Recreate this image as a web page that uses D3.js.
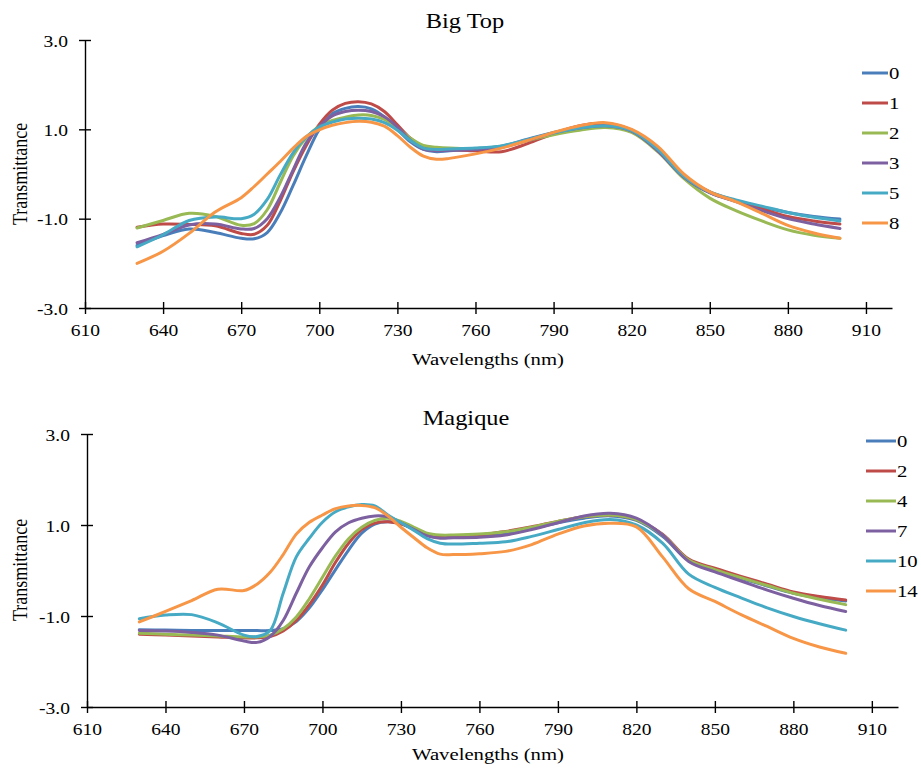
<!DOCTYPE html>
<html>
<head>
<meta charset="utf-8">
<script src="https://cdn.jsdelivr.net/npm/d3@7"></script>
<style>
  html, body { margin: 0; padding: 0; background: #fff; }
  svg { display: block; }
  text { font-family: "Liberation Serif", "Times New Roman", serif; fill: #000; }
</style>
</head>
<body>
<svg id="chart" width="921" height="774"></svg>
<script>
// ---------- DATA ----------
const wavelengths = [630,640,650,660,670,675,680,685,690,695,700,705,710,715,720,725,730,735,740,745,750,760,770,780,790,800,810,820,830,840,850,860,870,880,890,900];

const xTicks = [610,640,670,700,730,760,790,820,850,880,910];
const yTicks = [-3,-1,1,3];

// Big Top
const bigTopNames = ["0","1","2","3","5","8"];
const bigTop0 = [-1.60,-1.38,-1.23,-1.31,-1.44,-1.45,-1.31,-0.87,-0.25,0.41,1.00,1.35,1.47,1.51,1.46,1.28,1.00,0.72,0.55,0.50,0.52,0.55,0.62,0.78,0.93,1.05,1.10,0.98,0.55,-0.05,-0.42,-0.60,-0.74,-0.86,-0.95,-1.01];
const bigTop1 = [-1.19,-1.12,-1.13,-1.16,-1.33,-1.35,-1.15,-0.60,0.06,0.64,1.11,1.43,1.58,1.62,1.57,1.40,1.10,0.80,0.60,0.55,0.55,0.52,0.50,0.68,0.90,1.08,1.13,0.98,0.55,-0.05,-0.40,-0.60,-0.78,-0.95,-1.05,-1.12];
const bigTop2 = [-1.21,-1.04,-0.88,-0.95,-1.15,-1.11,-0.80,-0.19,0.41,0.81,1.07,1.20,1.27,1.32,1.31,1.22,1.03,0.80,0.64,0.60,0.58,0.57,0.62,0.75,0.88,0.98,1.04,0.93,0.50,-0.10,-0.54,-0.82,-1.05,-1.25,-1.37,-1.44];
const bigTop3 = [-1.54,-1.35,-1.14,-1.12,-1.23,-1.22,-1.00,-0.52,0.10,0.70,1.06,1.30,1.40,1.43,1.40,1.28,1.05,0.75,0.56,0.52,0.53,0.55,0.60,0.75,0.92,1.03,1.08,0.96,0.52,-0.07,-0.42,-0.62,-0.82,-1.00,-1.12,-1.22];
const bigTop5 = [-1.63,-1.36,-1.04,-0.96,-1.00,-0.90,-0.57,-0.02,0.48,0.83,1.05,1.16,1.23,1.25,1.23,1.15,0.98,0.75,0.58,0.55,0.56,0.58,0.63,0.77,0.92,1.03,1.08,0.97,0.55,-0.05,-0.40,-0.58,-0.72,-0.86,-0.97,-1.05];
const bigTop8 = [-2.00,-1.73,-1.33,-0.85,-0.53,-0.28,0.00,0.28,0.58,0.84,0.99,1.09,1.15,1.18,1.16,1.07,0.86,0.60,0.40,0.33,0.35,0.45,0.58,0.75,0.93,1.08,1.15,1.00,0.62,0.00,-0.40,-0.62,-0.88,-1.15,-1.32,-1.44];

// Magique
const magiqueNames = ["0","2","4","7","10","14"];
const magique0 = [-1.30,-1.31,-1.32,-1.32,-1.32,-1.32,-1.32,-1.28,-1.12,-0.82,-0.42,0.02,0.45,0.82,1.02,1.07,1.03,0.90,0.78,0.74,0.74,0.76,0.82,0.92,1.05,1.15,1.20,1.10,0.75,0.22,0.02,-0.17,-0.34,-0.50,-0.60,-0.67];
const magique2 = [-1.40,-1.42,-1.44,-1.46,-1.48,-1.48,-1.45,-1.33,-1.10,-0.75,-0.32,0.18,0.60,0.90,1.04,1.07,1.02,0.92,0.80,0.76,0.76,0.78,0.86,0.96,1.08,1.18,1.22,1.12,0.80,0.25,0.05,-0.13,-0.30,-0.47,-0.57,-0.65];
const magique4 = [-1.38,-1.40,-1.42,-1.44,-1.46,-1.46,-1.42,-1.28,-1.02,-0.62,-0.15,0.32,0.70,0.95,1.10,1.15,1.08,0.95,0.82,0.78,0.78,0.80,0.85,0.95,1.08,1.18,1.22,1.12,0.78,0.23,0.02,-0.16,-0.33,-0.50,-0.63,-0.75];
const magique7 = [-1.32,-1.33,-1.36,-1.42,-1.55,-1.58,-1.45,-1.10,-0.50,0.08,0.50,0.85,1.05,1.15,1.20,1.18,1.05,0.90,0.76,0.71,0.72,0.73,0.78,0.90,1.05,1.20,1.26,1.15,0.78,0.20,-0.03,-0.23,-0.43,-0.61,-0.77,-0.90];
const magique10 = [-1.06,-0.98,-0.97,-1.15,-1.42,-1.45,-1.32,-0.50,0.30,0.71,1.06,1.29,1.40,1.45,1.42,1.22,1.05,0.88,0.70,0.60,0.58,0.60,0.63,0.75,0.90,1.05,1.12,1.00,0.60,-0.08,-0.37,-0.60,-0.82,-1.01,-1.17,-1.31];
const magique14 = [-1.13,-0.90,-0.66,-0.41,-0.44,-0.30,-0.04,0.35,0.80,1.06,1.22,1.36,1.42,1.43,1.38,1.20,0.95,0.72,0.50,0.36,0.35,0.37,0.42,0.57,0.80,0.98,1.04,0.96,0.30,-0.40,-0.68,-0.97,-1.23,-1.49,-1.68,-1.82];

const seriesColors = ["#4A7EBB","#BE4B48","#98B954","#7D60A0","#46AAC5","#F79646"];

// ---------- DRAW ----------
const svg = d3.select("#chart");
const fmt = d => d.toFixed(1);
const HS = 1.22; // horizontal text stretch of the original figure

function drawPanel(cfg) {
  const g = svg.append("g");
  const x = d3.scaleLinear().domain([610, 920]).range([cfg.x0, cfg.x1]);
  const y = d3.scaleLinear().domain([-3, 3]).range([cfg.yBot, cfg.yTop]);

  // x axis
  const xa = g.append("g")
    .attr("transform", `translate(0,${cfg.yBot})`)
    .call(d3.axisBottom(x).tickValues(xTicks).tickSizeInner(6).tickSizeOuter(0).tickPadding(0).tickFormat(d3.format("d")));
  xa.select(".domain").attr("stroke", "#000").attr("stroke-width", 1.4);
  xa.selectAll(".tick line").attr("y1", -6).attr("y2", 6).attr("stroke", "#000").attr("stroke-width", 1.4);
  xa.selectAll(".tick text")
    .attr("y", 0).attr("dy", null)
    .attr("font-size", 16)
    .attr("font-family", "Liberation Serif")
    .attr("transform", `translate(0,28) scale(${HS},1)`);

  // y axis
  const ya = g.append("g")
    .attr("transform", `translate(${cfg.x0},0)`)
    .call(d3.axisLeft(y).tickValues(yTicks).tickSizeInner(6).tickSizeOuter(0).tickPadding(0).tickFormat(fmt));
  ya.select(".domain").attr("stroke", "#000").attr("stroke-width", 1.4);
  ya.selectAll(".tick line").attr("x1", -6).attr("x2", 6).attr("stroke", "#000").attr("stroke-width", 1.4);
  ya.selectAll(".tick text")
    .attr("x", 0).attr("dy", null).attr("y", 0)
    .attr("font-size", 16)
    .attr("font-family", "Liberation Serif")
    .attr("text-anchor", "end")
    .attr("transform", `translate(-17,6) scale(${HS},1)`);

  // lines
  const line = d3.line()
    .x((d, i) => x(wavelengths[i]))
    .y(d => y(d))
    .curve(d3.curveCatmullRom.alpha(0.5));
  cfg.series.forEach((s, i) => {
    g.append("path")
      .datum(s)
      .attr("fill", "none")
      .attr("stroke", seriesColors[i])
      .attr("stroke-width", 3)
      .attr("stroke-linejoin", "round")
      .attr("stroke-linecap", "round")
      .attr("d", line);
  });

  // title
  g.append("text")
    .attr("transform", `translate(${cfg.titleX},${cfg.titleY}) scale(${HS},1)`)
    .attr("text-anchor", "middle")
    .attr("font-size", 20)
    .text(cfg.title);

  // x label
  g.append("text")
    .attr("transform", `translate(${cfg.xLabelX},${cfg.xLabelY}) scale(${HS},1)`)
    .attr("text-anchor", "middle")
    .attr("font-size", 17)
    .text("Wavelengths (nm)");

  // y label
  g.append("text")
    .attr("transform", `translate(${cfg.yLabelX},${cfg.yLabelY}) rotate(-90) scale(1,${HS})`)
    .attr("text-anchor", "middle")
    .attr("font-size", 18)
    .text("Transmittance");

  // legend
  const lg = g.append("g");
  cfg.names.forEach((n, i) => {
    const yy = cfg.legY + i * cfg.legStep;
    lg.append("line")
      .attr("x1", cfg.legX).attr("x2", cfg.legX + cfg.legLen)
      .attr("y1", yy).attr("y2", yy)
      .attr("stroke", seriesColors[i]).attr("stroke-width", 3);
    lg.append("text")
      .attr("transform", `translate(${cfg.legX + cfg.legLen + 1},${yy + 6}) scale(${HS},1)`)
      .attr("font-size", 17)
      .text(n);
  });
}

drawPanel({
  x0: 85, x1: 892, yTop: 40, yBot: 308,
  series: [bigTop0, bigTop1, bigTop2, bigTop3, bigTop5, bigTop8],
  names: bigTopNames,
  title: "Big Top", titleX: 465, titleY: 28,
  xLabelX: 488, xLabelY: 365,
  yLabelX: 27, yLabelY: 174,
  legX: 862, legLen: 26, legY: 73, legStep: 30
});

drawPanel({
  x0: 87, x1: 898, yTop: 434, yBot: 707,
  series: [magique0, magique2, magique4, magique7, magique10, magique14],
  names: magiqueNames,
  title: "Magique", titleX: 466, titleY: 425,
  xLabelX: 488, xLabelY: 760,
  yLabelX: 27, yLabelY: 570,
  legX: 866, legLen: 30, legY: 441, legStep: 30
});
</script>
</body>
</html>
